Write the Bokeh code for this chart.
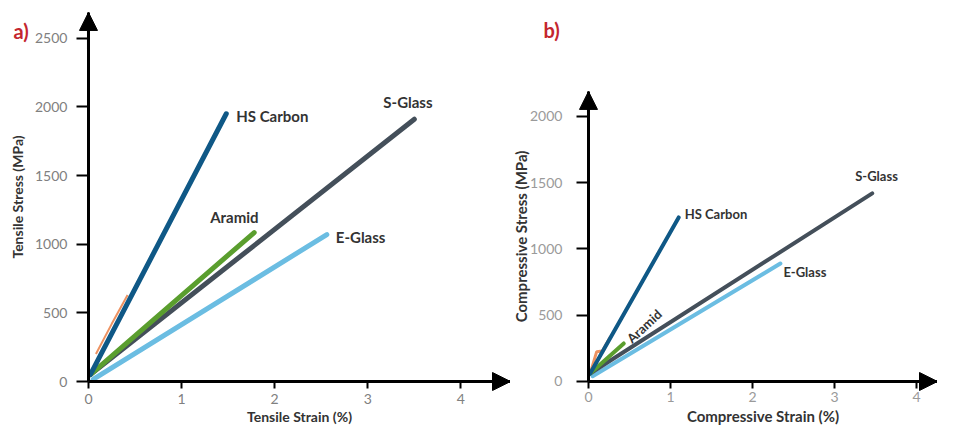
from bokeh.plotting import figure
from bokeh.layouts import row
from bokeh.models import FixedTicker, Arrow, NormalHead, Label, Range1d
from bokeh.embed import file_html
from bokeh.resources import INLINE
from bokeh.core.properties import value

# ---------------- data ----------------
series_names = ["HS Carbon", "S-Glass", "Aramid", "E-Glass"]

# a) tensile
tens_hs_x = [0.02, 1.48]
tens_hs_y = [50, 1950]
tens_sg_x = [0.02, 3.50]
tens_sg_y = [50, 1910]
tens_ar_x = [0.02, 1.78]
tens_ar_y = [50, 1085]
tens_eg_x = [0.05, 2.56]
tens_eg_y = [15, 1070]
tens_or_x = [0.08, 0.25, 0.42]
tens_or_y = [200, 420, 630]

# b) compressive
comp_hs_x = [0.02, 1.10]
comp_hs_y = [60, 1238]
comp_sg_x = [0.02, 3.46]
comp_sg_y = [60, 1420]
comp_ar_x = [0.02, 0.43]
comp_ar_y = [60, 287]
comp_eg_x = [0.05, 2.34]
comp_eg_y = [40, 890]
comp_or_x = [0.03, 0.10, 0.17, 0.27]
comp_or_y = [80, 225, 230, 340]

tens_y_ticks = [0, 500, 1000, 1500, 2000, 2500]
comp_y_ticks = [0, 500, 1000, 1500, 2000]
strain_ticks = [0, 1, 2, 3, 4]

# ---------------- style / layout ----------------
C_HS = "#0f5886"
C_SG = "#444f5a"
C_AR = "#5a9e2e"
C_EG = "#6bbde2"
C_OR = "#e8773a"
FONT = "Lato"
H = 426


def head():
    return NormalHead(size=18, fill_color="black", line_color="black")


def make_panel(width, xr, yr, x_tip, y_tip, yticks, xlabel, ylabel,
               tick_color, axlab_size, ylab_standoff, ytick_standoff, xtick_standoff):
    p = figure(width=width, height=H, x_range=Range1d(*xr), y_range=Range1d(*yr),
               output_backend="svg", toolbar_location=None, title=None,
               min_border_left=0, min_border_top=0, min_border_right=0,
               min_border_bottom=0)
    p.grid.visible = False
    p.outline_line_color = None
    p.xaxis.ticker = FixedTicker(ticks=strain_ticks)
    p.yaxis.ticker = FixedTicker(ticks=yticks)
    p.xaxis.axis_label = xlabel
    p.yaxis.axis_label = ylabel
    p.xaxis.fixed_location = 0
    p.yaxis.fixed_location = 0
    p.xaxis.bounds = (0, x_tip)
    p.yaxis.bounds = (0, y_tip)
    for ax in (p.xaxis, p.yaxis):
        ax.axis_line_width = 3
        ax.axis_line_color = "black"
        ax.major_tick_line_width = 2
        ax.major_tick_line_color = "black"
        ax.major_tick_in = 0
        ax.minor_tick_line_color = None
        ax.major_label_text_font = FONT
        ax.major_label_text_font_size = "14px"
        ax.major_label_text_color = tick_color
        ax.axis_label_text_font = FONT
        ax.axis_label_text_font_style = "bold"
        ax.axis_label_text_font_size = axlab_size
        ax.axis_label_text_color = "#333333"
    p.xaxis.major_tick_out = 7
    p.xaxis.major_label_standoff = xtick_standoff
    p.xaxis.axis_label_standoff = 1
    p.yaxis.major_tick_out = 12
    p.yaxis.major_label_standoff = ytick_standoff
    p.yaxis.axis_label_standoff = ylab_standoff
    p.add_layout(Arrow(end=head(), x_start=x_tip * 0.9, y_start=0, x_end=x_tip,
                       y_end=0, line_width=3, line_color="black"))
    p.add_layout(Arrow(end=head(), x_start=0, y_start=y_tip * 0.9, x_end=0,
                       y_end=y_tip, line_width=3, line_color="black"))
    return p


def add_label(p, x, y, text, dx, dy, size, angle=0.0):
    p.text(x=[x], y=[y], text=[text], x_offset=dx, y_offset=dy, angle=angle,
           text_font=value(FONT), text_font_style="bold", text_font_size=size,
           text_color="#333333", text_align="left", text_baseline="middle")


def panel_tag(p, x, y, text):
    p.add_layout(Label(x=x, y=y, text=text, text_font=FONT, text_font_style="bold",
                       text_font_size="20px", text_color="#c4262e",
                       text_baseline="middle"))


# ---------------- panel a ----------------
pa = make_panel(510, (-0.945, 4.533), (-327.7, 2775), 4.533, 2688, tens_y_ticks,
                "Tensile Strain (%)", "Tensile Stress (MPa)", "#808080", "14px",
                6, 9, 5)
pa.line(tens_or_x, tens_or_y, line_color=C_OR, line_width=2, line_alpha=0.8)
pa.line(tens_eg_x, tens_eg_y, line_color=C_EG, line_width=5, line_cap="round")
pa.line(tens_sg_x, tens_sg_y, line_color=C_SG, line_width=5, line_cap="round")
pa.line(tens_ar_x, tens_ar_y, line_color=C_AR, line_width=5, line_cap="round")
pa.line(tens_hs_x, tens_hs_y, line_color=C_HS, line_width=5, line_cap="round")
add_label(pa, tens_hs_x[-1], tens_hs_y[-1], series_names[0], 10, 2, "15px")
add_label(pa, tens_sg_x[-1], tens_sg_y[-1], series_names[1], -31, -17, "15px")
add_label(pa, tens_ar_x[-1], tens_ar_y[-1], series_names[2], -44, -16, "15px")
add_label(pa, tens_eg_x[-1], tens_eg_y[-1], series_names[3], 9, 2, "15px")
panel_tag(pa, -0.806, 2556, "a)")

# ---------------- panel b ----------------
pb = make_panel(427, (-0.951, 4.256), (-339.6, 2875), 4.256, 2189, comp_y_ticks,
                "Compressive Strain (%)", "Compressive Stress (MPa)", "#9a9a9a", "15px",
                -3, 14, 4)
pb.line(comp_or_x, comp_or_y, line_color=C_OR, line_width=3, line_alpha=0.8)
pb.line(comp_eg_x, comp_eg_y, line_color=C_EG, line_width=4, line_cap="round")
pb.line(comp_sg_x, comp_sg_y, line_color=C_SG, line_width=4, line_cap="round")
pb.line(comp_ar_x, comp_ar_y, line_color=C_AR, line_width=4, line_cap="round")
pb.line(comp_hs_x, comp_hs_y, line_color=C_HS, line_width=4, line_cap="round")
add_label(pb, comp_hs_x[-1], comp_hs_y[-1], series_names[0], 6, -3, "13px")
add_label(pb, comp_sg_x[-1], comp_sg_y[-1], series_names[1], -17, -17, "13px")
add_label(pb, comp_ar_x[-1], comp_ar_y[-1], series_names[2], 5, -3, "13px", angle=0.75)
add_label(pb, comp_eg_x[-1], comp_eg_y[-1], series_names[3], 3, 8, "13px")
panel_tag(pb, -0.549, 2649, "b)")

layout = row(pa, pb)
open("out.html", "w").write(file_html(layout, INLINE))
